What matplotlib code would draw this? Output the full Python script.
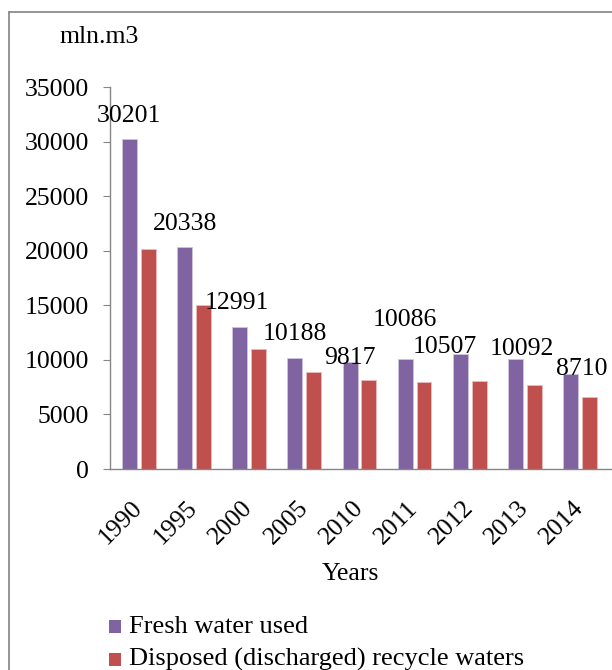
"""
plot.py

Fresh water used vs disposed (discharged) recycle waters, mln.m3, by year.
"""
# Matplotlib
import matplotlib
matplotlib.use('Agg')
import matplotlib.pyplot as plt
from matplotlib.lines import Line2D
from matplotlib.patches import Rectangle
from matplotlib.transforms import ScaledTranslation

# Data
years = ['1990', '1995', '2000', '2005', '2010', '2011', '2012', '2013', '2014']
fresh_water = [30201, 20338, 12991, 10188, 9817, 10086, 10507, 10092, 8710]
disposed_water = [20200, 15000, 10950, 8850, 8150, 8000, 8050, 7700, 6600]

series_names = ['Fresh water used', 'Disposed (discharged) recycle waters']

# Label offsets (pixels) from the top of each fresh water bar, as placed in the original
label_offsets = [(-1, 17.5), (0, 17), (-3, 18), (0, 17.5), (0, -2.5),
                 (0, 32.5), (-16, 1.5), (6, 3.5), (11, -1)]

# Style
PURPLE = '#8064A2'
RED = '#C0504D'
GREY = '#868686'
FONT_SIZE = 18.5

plt.rcParams['font.family'] = ['Liberation Serif', 'DejaVu Serif']
plt.rcParams['font.size'] = FONT_SIZE

W, H = 612, 670
fig = plt.figure(figsize=(W / 100, H / 100), dpi=100)


def fx(px):
    return px / W


def fy(py):
    # pixel row measured from the top of the image -> figure fraction
    return (H - py) / H


ax = fig.add_axes([fx(110), fy(469), fx(612) - fx(110), fy(87) - fy(469)])

positions = list(range(len(years)))
offset = 0.17
width = 0.27

ax.bar([p - offset for p in positions], fresh_water, width, color=PURPLE,
       edgecolor='#CFC5DD', linewidth=0.6, label=series_names[0])
ax.bar([p + offset for p in positions], disposed_water, width, color=RED,
       edgecolor='#E8BCBB', linewidth=0.6, label=series_names[1])

# data labels on the fresh water bars
for p, v, (dx, dy) in zip(positions, fresh_water, label_offsets):
    ax.annotate(str(v), xy=(p - offset, v), xytext=(dx, dy), textcoords='offset pixels',
                ha='center', va='baseline', fontsize=FONT_SIZE, annotation_clip=False)

ax.set_xlim(-0.524, 8.58)
ax.set_ylim(0, 35000)
ax.set_yticks(range(0, 35001, 5000))

ax.tick_params(axis='x', length=0, pad=20)
ax.tick_params(axis='y', direction='out', length=5, width=0.8, color=GREY, pad=10)

ax.set_xticks(positions)
ax.set_xticklabels(years, rotation=45, ha='right', va='top')
# nudge the rotated year labels to the right (after tick_params, which resets transforms)
shift = ScaledTranslation(0.08, 0, fig.dpi_scale_trans)
for lbl in ax.get_xticklabels():
    lbl.set_transform(lbl.get_transform() + shift)

for side in ('top', 'right'):
    ax.spines[side].set_visible(False)
for side in ('left', 'bottom'):
    ax.spines[side].set_color(GREY)
    ax.spines[side].set_linewidth(1.0)

# axis titles
fig.text(fx(59), fy(43), 'mln.m3', ha='left', va='baseline')
fig.text(fx(350), fy(580), 'Years', ha='center', va='baseline')

# legend
for i, (name, color) in enumerate(zip(series_names, [PURPLE, RED])):
    top = 620 + i * 33
    fig.patches.append(Rectangle((fx(109), fy(top + 13)), fx(12), fy(0) - fy(13),
                                 transform=fig.transFigure, facecolor=color, edgecolor='none'))
    fig.text(fx(129), fy(top + 13), name, ha='left', va='baseline', fontsize=19)

# outer chart frame
fig.lines.append(Line2D([fx(8.5), fx(8.5)], [fy(11.5), 0], transform=fig.transFigure,
                        color='#8C8C8C', linewidth=1.3))
fig.lines.append(Line2D([fx(8.5), 1], [fy(11.5), fy(11.5)], transform=fig.transFigure,
                        color='#8C8C8C', linewidth=1.3))

fig.savefig('out.png', dpi=100)
